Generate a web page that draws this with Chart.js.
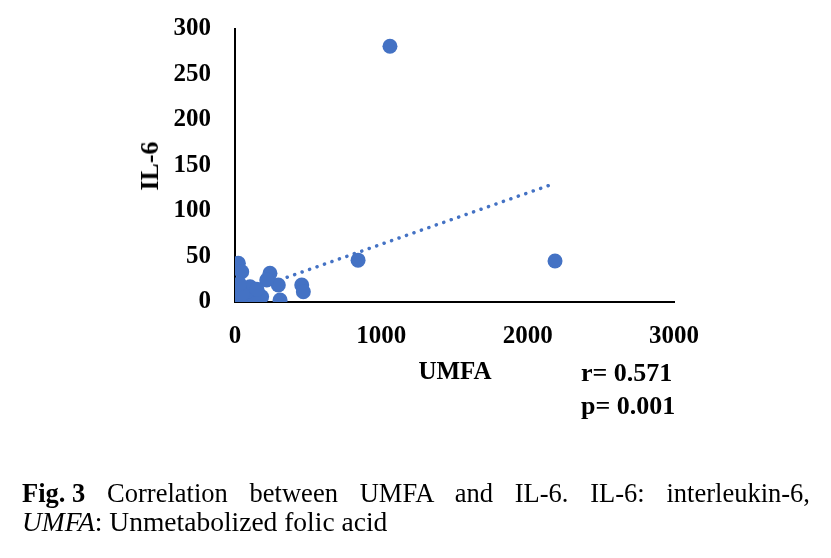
<!DOCTYPE html>
<html>
<head>
<meta charset="utf-8">
<script src="https://cdn.jsdelivr.net/npm/chart.js@4.4.1/dist/chart.umd.min.js"></script>
<style>
  html, body { margin: 0; padding: 0; background: #fff; }
  #wrap { position: relative; width: 831px; height: 558px; overflow: hidden; font-family: "Liberation Serif", "Times New Roman", serif; }
  #plot { position: absolute; left: 0; top: 0; }
  .lbl { position: absolute; font-weight: bold; color: #000; white-space: nowrap; }
  #ytitle { left: 150px; top: 166px; font-size: 26px; transform: translate(-50%, -50%) rotate(-90deg); }
  #xtitle { left: 455px; top: 371px; font-size: 25px; transform: translate(-50%, -50%); }
  #rval { left: 581px; top: 358px; font-size: 26px; }
  #pval { left: 581px; top: 391px; font-size: 26px; }
  .cap { position: absolute; left: 22px; width: 788px; font-size: 27px; line-height: 30px; color: #000; white-space: nowrap; }
  #cap1 { top: 478px; text-align: justify; text-align-last: justify; white-space: normal; font-size: 26.5px; }
  #cap1 b { display: inline-block; white-space: nowrap; }
  #cap2 { top: 507px; font-size: 27.5px; }
</style>
</head>
<body>
<div id="wrap">
  <canvas id="plot" width="831" height="558"></canvas>
  <div class="lbl" id="ytitle">IL-6</div>
  <div class="lbl" id="xtitle">UMFA</div>
  <div class="lbl" id="rval">r= 0.571</div>
  <div class="lbl" id="pval">p= 0.001</div>
  <div class="cap" id="cap1"><b>Fig. 3</b> Correlation between UMFA and IL-6. IL-6: interleukin-6,</div>
  <div class="cap" id="cap2"><i>UMFA</i>: Unmetabolized folic acid</div>
</div>
<script>
// UMFA (x) and IL-6 (y)
const umfa = [1059, 2187, 841, 456, 467, 296, 308, 239, 217, 182, 23, 46, 23, 103, 137, 23, 68, 125, 5, 88, 48, 30, 150];
const il6  = [281, 45, 46, 18.7, 11.3, 18.7, 2.2, 31.5, 24.2, 5.8, 42.5, 33.3, 15, 16.8, 11.3, 4, 2.2, 5.8, 1, 12, 9, 20, 14];

// linear trend line end points (x) and fitted values (y)
const trendX = [0, 2190];
const trendY = [7.1, 130.6];

const xTicks = [0, 1000, 2000, 3000];
const yTicks = [0, 50, 100, 150, 200, 250, 300];

const blue = '#4472C4';
const tickFont = { family: '"Liberation Serif", "Times New Roman", serif', size: 25, weight: 'bold' };

const points = umfa.map((x, i) => ({ x: x, y: il6[i] }));
const trend = trendX.map((x, i) => ({ x: x, y: trendY[i] }));

new Chart(document.getElementById('plot'), {
  type: 'scatter',
  data: {
    datasets: [
      {
        data: points,
        backgroundColor: blue,
        borderWidth: 0,
        pointRadius: 7.5,
        order: 1,
      },
      {
        type: 'line',
        data: trend,
        borderColor: blue,
        borderWidth: 3.5,
        borderDash: [0.1, 7.8],
        borderCapStyle: 'round',
        pointRadius: 0,
        fill: false,
        order: 2,
      },
    ],
  },
  options: {
    responsive: false,
    animation: false,
    events: [],
    layout: { padding: { left: 0, top: 29, right: 157, bottom: 0 } },
    plugins: { legend: { display: false }, tooltip: { enabled: false } },
    scales: {
      x: {
        type: 'linear',
        min: 0,
        max: 3000,
        afterFit: (s) => { s.height = 256; s.paddingRight = 0; },
        afterBuildTicks: (s) => { s.ticks = xTicks.map((v) => ({ value: v })); },
        grid: { display: false, drawTicks: false },
        border: { display: true, color: '#000', width: 2 },
        ticks: { color: '#000', font: tickFont, padding: 20, maxRotation: 0, callback: (v) => String(v) },
      },
      y: {
        type: 'linear',
        min: 0,
        max: 300,
        afterFit: (s) => { s.width = 235; s.paddingTop = 0; s.paddingBottom = 0; },
        afterBuildTicks: (s) => { s.ticks = yTicks.map((v) => ({ value: v })); },
        grid: { display: false, drawTicks: false },
        border: { display: true, color: '#000', width: 2 },
        ticks: { color: '#000', font: tickFont, padding: 24, callback: (v) => String(v) },
      },
    },
  },
});
</script>
</body>
</html>
